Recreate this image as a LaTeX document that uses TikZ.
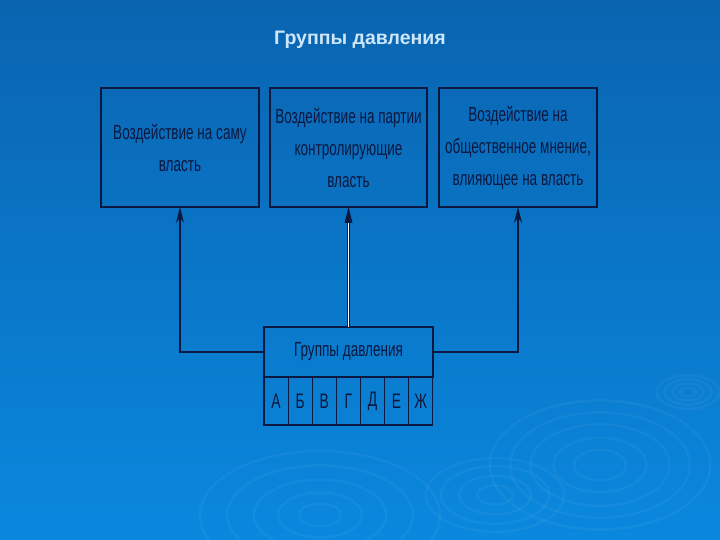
\documentclass[tikz,border=0pt]{standalone}
\usepackage{fontspec}
\setmainfont{Liberation Sans}
\newfontfamily\narrowfont[FakeStretch=0.66]{Liberation Sans}
\usetikzlibrary{arrows.meta}
\definecolor{bgtop}{RGB}{10,100,176}
\definecolor{bgbot}{RGB}{10,136,222}
\definecolor{navy}{RGB}{12,24,64}
\definecolor{titlec}{RGB}{205,230,250}
\tikzset{
  box/.style={draw=navy, line width=1.4pt, inner sep=0pt, outer sep=0pt, align=center,
    font=\narrowfont\fontsize{20.5}{32}\selectfont, text=navy},
  cell/.style={draw=navy, line width=1.2pt, inner sep=0pt, outer sep=0pt, minimum width=24.1pt,
    minimum height=48pt, font=\narrowfont\fontsize{21}{22}\selectfont, text=navy},
  conn/.style={draw=navy, line width=1.4pt, -{Stealth[length=16pt,width=8pt]}},
  ripple/.style={draw=white, opacity=0.045, line width=2.5pt}
}
\begin{document}
\begin{tikzpicture}[x=1pt,y=-1pt]
\useasboundingbox (0,0) rectangle (720,540);
\shade[top color=bgtop, bottom color=bgbot] (0,0) rectangle (720,540);
% ripples
\foreach \r in {18,32,48,62,76} {\draw[ripple] (600,465) ellipse ({\r*1.45} and {\r*0.85});}
\foreach \r in {12,24,36,46} {\draw[ripple] (495,495) ellipse ({\r*1.5} and {\r*0.8});}
\foreach \r in {14,28,44,62,80} {\draw[ripple] (320,515) ellipse ({\r*1.5} and {\r*0.8});}
\foreach \r in {6,12,18,24} {\draw[ripple] (688,392) ellipse ({\r*1.3} and {\r*0.7});}
% title
\node (title) at (360,40) {\color{titlec}\bfseries\fontsize{19.5}{22}\selectfont Группы давления};
% top boxes
\node[box, minimum width=158pt, minimum height=119pt] (b1) at (180,147.5)
  {Воздействие на саму\\власть};
\node[box, minimum width=157pt, minimum height=119pt] (b2) at (348.5,147.5)
  {Воздействие на партии\\контролирующие\\власть};
\node[box, minimum width=158pt, minimum height=119pt] (b3) at (518,147.5)
  {Воздействие на\\общественное мнение,\\влияющее на власть};
% bottom
\node[box, minimum width=169pt, minimum height=50pt] (hdr) at (348.5,352)
  {Группы давления};
\node[cell, anchor=north west] (c1) at (264,377) {А};
\node[cell, anchor=west] (c2) at (c1.east) {Б};
\node[cell, anchor=west] (c3) at (c2.east) {В};
\node[cell, anchor=west] (c4) at (c3.east) {Г};
\node[cell, anchor=west] (c5) at (c4.east) {Д};
\node[cell, anchor=west] (c6) at (c5.east) {Е};
\node[cell, anchor=west] (c7) at (c6.east) {Ж};
% connectors
\draw[conn] (hdr.west) -| (b1.south);
\draw[conn] (hdr.east) -| (b3.south);
\draw[navy, line width=3.2pt] (hdr.north) -- ([yshift=-15pt]b2.south);
\draw[white, line width=1.3pt] (hdr.north) -- ([yshift=-15pt]b2.south);
\fill[navy] (b2.south) -- ++(-4,16) -- ++(8,0) -- cycle;
\end{tikzpicture}
\end{document}
